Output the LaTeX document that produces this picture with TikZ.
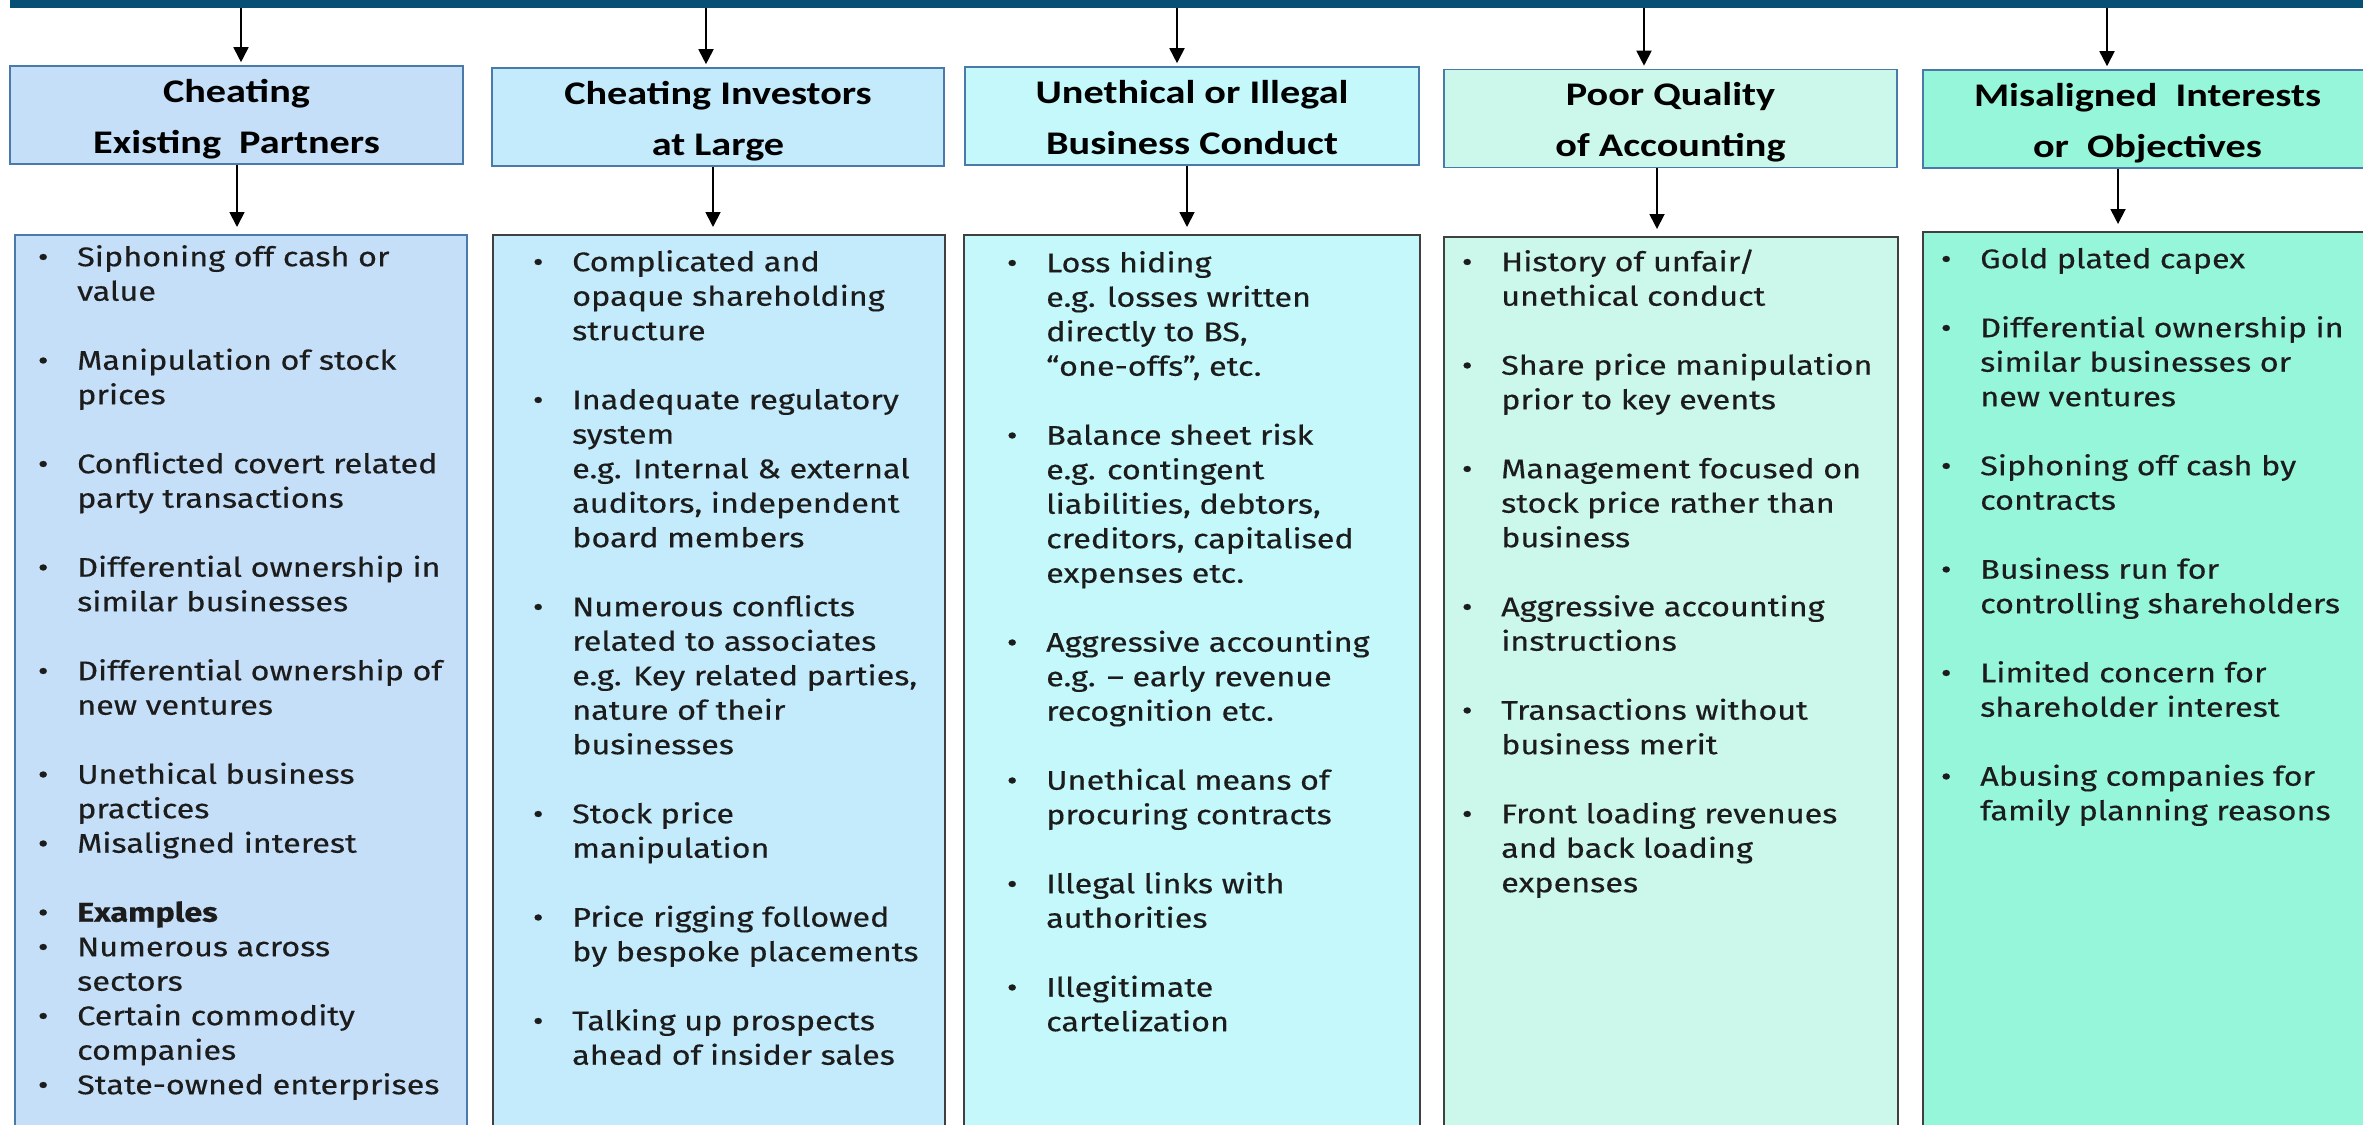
\documentclass[tikz,border=0pt]{standalone}
\usepackage{fontspec}
\usetikzlibrary{arrows.meta}

\newfontfamily\bodyfont{Fira Sans}[FakeStretch=1.2,FakeBold=0.35]
\newfontfamily\headfont{Carlito}[FakeStretch=1.22]

\definecolor{bandblue}{RGB}{5,80,116}
\definecolor{fillA}{RGB}{197,223,248}
\definecolor{fillB}{RGB}{195,235,251}
\definecolor{fillC}{RGB}{196,248,250}
\definecolor{fillD}{RGB}{203,248,234}
\definecolor{fillE}{RGB}{150,246,218}
\definecolor{headline}{RGB}{74,122,170}
\definecolor{boxline}{RGB}{64,64,64}
\definecolor{ink}{RGB}{28,28,28}

% bullet and hanging indent for the item lists
\newcommand\bul{\makebox[34pt][l]{\makebox[0pt][c]{\textbullet}}}
\newcommand\ind{\hspace*{34pt}}
\newcommand\gap{\\[34.5pt]}

\tikzset{
  headbox/.style={draw=headline, line width=1.6pt, inner sep=0pt, align=center,
    minimum height=98pt, text=black,
    font=\headfont\bfseries\fontsize{33}{51}\selectfont},
  bodybox/.style={draw=boxline, line width=2pt, inner sep=0pt, anchor=north},
  items/.style={anchor=north west, inner sep=0pt, align=left, text=ink,
    font=\bodyfont\fontsize{27}{34.5}\selectfont},
  arr/.style={line width=1.8pt, draw=black,
    -{Triangle[width=15pt,length=15pt]}},
}

\newcommand\hd[2]{\rule{0pt}{35pt}#1\\#2\rule[-10pt]{0pt}{10pt}}

\begin{document}
\begin{tikzpicture}[x=1pt,y=-1pt]
\useasboundingbox (0,0) rectangle (2363,1124);
\clip (0,0) rectangle (2363,1124);
\fill[white] (0,0) rectangle (2363,1124);

% top band
\node[fill=bandblue, inner sep=0pt, minimum width=2370pt, minimum height=14pt,
      anchor=south west] (band) at (10,8.5) {};

% category headers
\node[headbox, fill=fillA, minimum width=453pt] (h1) at (236.5,115)
  {\hd{Cheating}{Existing\ \ Partners}};
\node[headbox, fill=fillB, minimum width=452pt] (h2) at (718,117)
  {\hd{Cheating Investors}{at Large}};
\node[headbox, fill=fillC, minimum width=454pt] (h3) at (1192,116)
  {\hd{Unethical or Illegal}{Business Conduct}};
\node[headbox, fill=fillD, minimum width=453pt] (h4) at (1670.5,118.5)
  {\hd{Poor Quality}{of Accounting}};
\node[headbox, fill=fillE, minimum width=449pt] (h5) at (2147.5,119)
  {\hd{Misaligned\ \ Interests}{or\ \ Objectives}};

% item panels (open at the bottom edge)
\node[bodybox, draw=headline, fill=fillA, minimum width=452pt, minimum height=906pt] (b1) at (241,234) {};
\node[bodybox, fill=fillB, minimum width=452pt, minimum height=906pt] (b2) at (719,234) {};
\node[bodybox, fill=fillC, minimum width=456pt, minimum height=906pt] (b3) at (1192,234) {};
\node[bodybox, fill=fillD, minimum width=454pt, minimum height=904pt] (b4) at (1671,236) {};
\node[bodybox, fill=fillE, minimum width=449pt, minimum height=909pt] (b5) at (2147.5,231) {};

% arrows from the band to the headers and from the headers to the panels
\coordinate (u1) at (241,0);  \coordinate (d1) at (237,0);
\coordinate (u2) at (706,0);  \coordinate (d2) at (713,0);
\coordinate (u3) at (1177,0); \coordinate (d3) at (1187,0);
\coordinate (u4) at (1644,0); \coordinate (d4) at (1657,0);
\coordinate (u5) at (2107,0); \coordinate (d5) at (2118,0);
\foreach \i in {1,...,5}{
  \draw[arr, shorten >=3pt] (band.south -| u\i) -- (h\i.north -| u\i);
  \draw[arr, shorten >=7pt] (h\i.south -| d\i) -- (b\i.north -| d\i);
}

% item lists
\node[items] (t1) at (43,242) {\rule{0pt}{24pt}\bul Siphoning off cash or\\
\ind value\gap
\bul Manipulation of stock\\
\ind prices\gap
\bul Conflicted covert related\\
\ind party transactions\gap
\bul Differential ownership in\\
\ind similar businesses\gap
\bul Differential ownership of\\
\ind new ventures\gap
\bul Unethical business\\
\ind practices\\
\bul Misaligned interest\gap
\bul \textbf{Examples}\\
\bul Numerous across\\
\ind sectors\\
\bul Certain commodity\\
\ind companies\\
\bul State-owned enterprises};

\node[items] (t2) at (538,247) {\rule{0pt}{24pt}\bul Complicated and\\
\ind opaque shareholding\\
\ind structure\gap
\bul Inadequate regulatory\\
\ind system\\
\ind e.g. Internal \& external\\
\ind auditors, independent\\
\ind board members\gap
\bul Numerous conflicts\\
\ind related to associates\\
\ind e.g. Key related parties,\\
\ind nature of their\\
\ind businesses\gap
\bul Stock price\\
\ind manipulation\gap
\bul Price rigging followed\\
\ind by bespoke placements\gap
\bul Talking up prospects\\
\ind ahead of insider sales};

\node[items] (t3) at (1012,248) {\rule{0pt}{24pt}\bul Loss hiding\\
\ind e.g. losses written\\
\ind directly to BS,\\
\ind “one-offs”, etc.\gap
\bul Balance sheet risk\\
\ind e.g. contingent\\
\ind liabilities, debtors,\\
\ind creditors, capitalised\\
\ind expenses etc.\gap
\bul Aggressive accounting\\
\ind e.g. – early revenue\\
\ind recognition etc.\gap
\bul Unethical means of\\
\ind procuring contracts\gap
\bul Illegal links with\\
\ind authorities\gap
\bul Illegitimate\\
\ind cartelization};

\node[items] (t4) at (1467,247) {\rule{0pt}{24pt}\bul History of unfair/\\
\ind unethical conduct\gap
\bul Share price manipulation\\
\ind prior to key events\gap
\bul Management focused on\\
\ind stock price rather than\\
\ind business\gap
\bul Aggressive accounting\\
\ind instructions\gap
\bul Transactions without\\
\ind business merit\gap
\bul Front loading revenues\\
\ind and back loading\\
\ind expenses};

\node[items] (t5) at (1946,244) {\rule{0pt}{24pt}\bul Gold plated capex\gap
\bul Differential ownership in\\
\ind similar businesses or\\
\ind new ventures\gap
\bul Siphoning off cash by\\
\ind contracts\gap
\bul Business run for\\
\ind controlling shareholders\gap
\bul Limited concern for\\
\ind shareholder interest\gap
\bul Abusing companies for\\
\ind family planning reasons};
\end{tikzpicture}
\end{document}
